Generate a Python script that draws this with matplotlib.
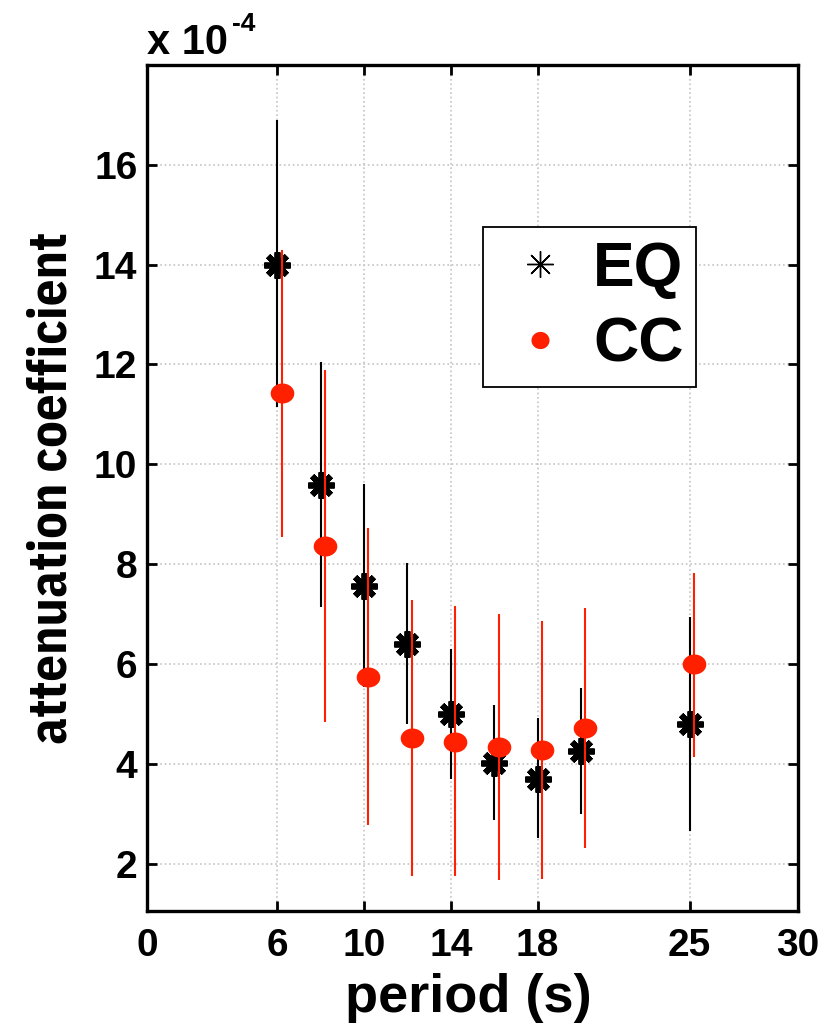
import numpy as np
import matplotlib
matplotlib.use('Agg')
import matplotlib.pyplot as plt
from matplotlib.path import Path
from matplotlib.lines import Line2D

# attenuation coefficient (x 1e-4) against period, earthquake vs cross-correlation
period = np.array([6, 8, 10, 12, 14, 16, 18, 20, 25])
cc_shift = 0.2

eq_value = np.array([14.0, 9.58, 7.56, 6.40, 5.0, 4.02, 3.70, 4.26, 4.80])
eq_low = np.array([11.14, 7.14, 5.54, 4.80, 3.70, 2.88, 2.52, 3.00, 2.66])
eq_high = np.array([16.9, 12.04, 9.60, 8.02, 6.30, 5.18, 4.92, 5.52, 6.94])

cc_value = np.array([11.42, 8.36, 5.74, 4.52, 4.44, 4.34, 4.28, 4.72, 6.00])
cc_low = np.array([8.54, 4.84, 2.78, 1.76, 1.76, 1.68, 1.70, 2.32, 4.14])
cc_high = np.array([14.30, 11.88, 8.72, 7.28, 7.16, 7.00, 6.86, 7.12, 7.82])

x_ticks = [0, 6, 10, 14, 18, 25, 30]
y_ticks = [2, 4, 6, 8, 10, 12, 14, 16]

red = '#ff2000'
bold_font = 'Liberation Sans'
narrow_font = 'IBM Plex Sans Condensed'


def ellipse_marker(aspect=1.18, n=60):
    """ Return a filled ellipse path, wider than tall, for use as a marker. """
    t = np.linspace(0, 2 * np.pi, n)
    verts = np.column_stack([aspect * np.cos(t), np.sin(t)])
    return Path(verts, closed=True)


fig = plt.figure(figsize=(8.38, 10.26), dpi=100)
W, H = 838, 1026
left, right, top, bottom = 147, 798, 65, 911
ax = fig.add_axes([left / W, 1 - bottom / H, (right - left) / W, (bottom - top) / H])

# black errorbars and stars first, red bars and dots on top
ax.errorbar(period, eq_value, yerr=[eq_value - eq_low, eq_high - eq_value],
            fmt='none', ecolor='black', elinewidth=1.5, capsize=0, zorder=3)
ax.plot(period, eq_value, linestyle='none', marker=(8, 2, 0), markersize=19,
        markeredgewidth=4.2, color='black', zorder=4)
ax.errorbar(period + cc_shift, cc_value, yerr=[cc_value - cc_low, cc_high - cc_value],
            fmt='none', ecolor=red, elinewidth=1.5, capsize=0, zorder=5)
ax.plot(period + cc_shift, cc_value, linestyle='none', marker=ellipse_marker(),
        markersize=17, color=red, markeredgewidth=0, zorder=6)

ax.set_xlim(0, 30)
ax.set_ylim(1.05, 18)
ax.set_xticks(x_ticks)
ax.set_yticks(y_ticks)
ax.set_xticklabels([str(t) for t in x_ticks])
ax.set_yticklabels([str(t) for t in y_ticks])
ax.grid(True, color='#c4c4c4', linestyle=':', linewidth=1.2)
ax.set_axisbelow(True)

for s in ax.spines.values():
    s.set_linewidth(2.4)
ax.tick_params(direction='in', length=7, width=2, top=True, right=True)
ax.tick_params(axis='x', pad=12)
ax.tick_params(axis='y', pad=7)
for lab in ax.get_xticklabels() + ax.get_yticklabels():
    lab.set_fontfamily(bold_font)
    lab.set_fontweight('bold')
    lab.set_fontsize(28)

# exponent of the y scale above the axes
fig.text(147 / W, 1 - 54 / H, 'x 10', fontsize=30, fontweight='bold',
         family=bold_font, ha='left', va='baseline')
fig.text(232 / W, 1 - 31 / H, '-4', fontsize=19, fontweight='bold',
         family=bold_font, ha='left', va='baseline')

fig.text(52 / W, 1 - 488 / H, 'attenuation coefficient', rotation=90,
         fontsize=38, fontweight='bold', family=narrow_font, ha='center', va='center')
fig.text(468 / W, 1 - 998 / H, 'period (s)', fontsize=39, fontweight='bold',
         family=bold_font, ha='center', va='center')

handles = [
    Line2D([], [], linestyle='none', marker=(8, 2, 0), markersize=19,
           markeredgewidth=1.0, color='black'),
    Line2D([], [], linestyle='none', marker=ellipse_marker(aspect=1.05), markersize=13,
           color=red, markeredgewidth=0),
]
leg = ax.legend(handles, ['EQ', 'CC'], loc='upper left', bbox_to_anchor=(0.516, 0.8085),
                prop={'family': bold_font, 'weight': 'bold', 'size': 45},
                frameon=True, fancybox=False, framealpha=1, edgecolor='black',
                borderpad=0.2, labelspacing=0.27, handlelength=1.42, handletextpad=0.14,
                borderaxespad=0)
leg.get_frame().set_linewidth(1.3)

fig.savefig('out.png', dpi=100)
